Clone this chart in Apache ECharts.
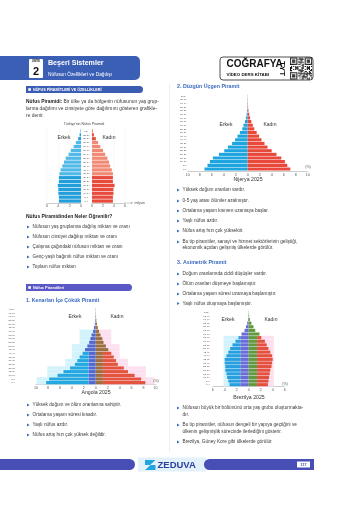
<!DOCTYPE html>
<html><head><meta charset="utf-8">
<script src="https://cdn.jsdelivr.net/npm/echarts@6/dist/echarts.min.js"></script>
<style>html,body{margin:0;padding:0;background:#fff}#c{width:343px;height:514px}</style>
</head><body><div id="c"></div><script>
const FF = "'Liberation Sans', Arial, Helvetica, sans-serif";
const FN = "'Liberation Sans Narrow', 'Liberation Sans', Arial, sans-serif";

// ---- categories ----
const ages19 = ['0-4','5-9','10-14','15-19','20-24','25-29','30-34','35-39','40-44','45-49','50-54','55-59','60-64','65-69','70-74','75-79','80-84','85-89','90+'];
const ages21 = ['0-4','5-9','10-14','15-19','20-24','25-29','30-34','35-39','40-44','45-49','50-54','55-59','60-64','65-69','70-74','75-79','80-84','85-89','90-94','95-99','100+'];

// ---- Türkiye (milyon) ----
const trMale   = [3.9,3.9,4.0,4.0,4.1,3.9,3.9,3.8,3.6,3.3,3.0,2.7,2.2,1.8,1.3,0.9,0.5,0.25,0.08];
const trFemale = [3.8,3.8,3.9,3.9,4.1,3.8,3.8,3.8,3.6,3.3,3.1,2.8,2.4,2.0,1.5,1.1,0.7,0.35,0.12];

// ---- Nijerya 2025 (%) ----
const ngMale   = [7.2,6.7,6.3,5.8,4.8,3.9,3.3,2.6,2.1,1.7,1.3,0.9,0.7,0.45,0.3,0.18,0.1,0.06,0.04,0.03,0.02];
const ngFemale = [7.1,6.6,6.2,5.6,4.8,4.0,3.3,2.8,2.3,1.9,1.5,1.1,0.85,0.6,0.4,0.25,0.12,0.07,0.04,0.03,0.02];

// ---- Angola 2025 (%) ----
const aoMale      = [8.3,7.8,6.4,5.4,4.3,3.5,3.1,2.7,2.2,1.8,1.4,1.1,0.9,0.7,0.45,0.3,0.15,0.08,0.04,0.03,0.02];
const aoFemale    = [8.3,7.6,6.5,5.4,4.7,3.7,3.4,3.0,2.6,2.1,1.7,1.3,1.1,0.8,0.55,0.35,0.2,0.1,0.05,0.03,0.02];
const aoMaleInner = [1.2,1.2,1.2,1.2,1.2,1.2,1.2,1.2,1.2,1.8,1.4,1.1,0.9,0.7,0.45,0.3,0.15,0.08,0.04,0.03,0.02];
const aoFemaleInner=[1.2,1.2,1.2,1.2,1.2,1.2,1.2,1.2,1.2,2.1,1.7,1.3,1.1,0.8,0.55,0.35,0.2,0.1,0.05,0.03,0.02];
const aoMaleBg    = [9.9,9.9,8.1,8.1,8.1,5.1,5.1,4.0,4.0,4.0,4.0,2.7,2.7,2.7,2.7,0,0,0,0,0,0];
const aoFemaleBg  = [9.8,9.8,8.4,8.4,8.4,5.4,5.4,4.0,4.0,4.0,4.0,2.6,2.6,2.6,2.6,0,0,0,0,0,0];

// ---- Brezilya 2025 (%) ----
const brMale      = [3.2,3.4,3.6,3.7,3.9,3.9,4.0,4.0,3.7,3.4,3.1,2.7,2.2,1.7,1.2,0.7,0.45,0.25,0.1,0.04,0.02];
const brFemale    = [3.2,3.3,3.4,3.5,3.6,3.8,3.9,4.0,3.9,3.6,3.3,3.0,2.7,2.1,1.8,1.1,0.8,0.45,0.2,0.08,0.03];
const brMaleInner = [1.4,1.4,1.4,1.4,1.4,1.4,1.4,1.4,1.4,1.4,1.4,1.4,1.4,1.4,1.2,0.7,0.45,0.25,0.1,0.04,0.02];
const brFemaleInner=[1.4,1.4,1.4,1.4,1.4,1.4,1.4,1.4,1.4,1.4,1.4,1.4,1.4,1.4,1.8,1.1,0.8,0.45,0.2,0.08,0.03];
const brMaleBg    = [4.2,4.2,4.2,4.2,4.2,4.2,4.2,4.2,4.2,4.2,4.2,4.2,4.2,4.2,0,0,0,0,0,0,0];
const brFemaleBg  = [4.2,4.2,4.2,4.2,4.2,4.2,4.2,4.2,4.2,4.2,4.2,4.2,4.2,4.2,0,0,0,0,0,0,0];

// ---- helpers ----
const neg = a => a.map(v => -v);
const rest = (t, inn) => t.map((v, i) => +(v - Math.min(v, inn[i])).toFixed(3));
const part = (t, inn) => t.map((v, i) => Math.min(v, inn[i]));
const box = (x1, y1, x2, y2) => ({left: x1, top: y1, width: x2 - x1, height: y2 - y1});

const tickLbl = (margin) => ({fontSize: 3.6, color: '#555', fontFamily: FF, margin: margin, formatter: v => Math.abs(v)});
const axLine = {show: true, lineStyle: {color: '#9a9a9a', width: 0.5}};
const ageLbl = (margin, align) => ({show: true, interval: 0, fontSize: 2.5, color: '#444', fontFamily: FF, margin: margin, align: align});

function valAxis(gi, min, max, margin, opts) {
  return Object.assign({type: 'value', gridIndex: gi, min: min, max: max, interval: 2,
    axisLabel: tickLbl(margin), axisLine: axLine, axisTick: {show: false},
    splitLine: {show: false}}, opts || {});
}
function catAxis(gi, data, lbl) {
  return {type: 'category', gridIndex: gi, data: data,
    axisLabel: lbl || {show: false}, axisLine: {show: false}, axisTick: {show: false}};
}
function hidVal(gi, min, max) { return {type: 'value', gridIndex: gi, min: min, max: max, show: false}; }
function hidCat(gi, data) { return {type: 'category', gridIndex: gi, data: data, show: false}; }

// ---- graphic helpers ----
const BODY = 4.7;
const G = [];
function T(text, x, y, o) {
  o = o || {};
  G.push({type: 'text', x: x, y: y, rotation: o.rot || 0, silent: true, z: 100,
    style: {text: text, fill: o.c || '#3a3a3a', fontSize: o.s || BODY, fontFamily: o.f || FF,
      fontWeight: o.w || 'normal', align: o.a || 'left', textAlign: o.a || 'left',
      verticalAlign: 'middle', textVerticalAlign: 'middle', rich: o.rich}});
}
function R(x, y, w, h, fill, o) {
  o = o || {};
  G.push({type: 'rect', silent: true, z: o.z || 90, shape: {x: x, y: y, width: w, height: h, r: o.r || 0},
    style: {fill: fill, stroke: o.stroke || null, lineWidth: o.lw || 0}});
}
function P(points, fill) { G.push({type: 'polygon', silent: true, z: 95, shape: {points: points}, style: {fill: fill}}); }
function L(x1, y1, x2, y2, c, w) { G.push({type: 'line', silent: true, z: 90, shape: {x1, y1, x2, y2}, style: {stroke: c, lineWidth: w}}); }
function bullet(x, y) { P([[x, y - 1.4], [x + 2.6, y], [x, y + 1.4]], '#3d6cc2'); }
function B(lines, x) {
  bullet(x, lines[0][1]);
  lines.forEach(l => T(l[0], x + 5.5, l[1]));
}

// header
R(0, 56, 140, 24, '#3b5fb5', {r: [0, 5, 5, 0]});
R(29, 59, 14, 19, '#ffffff', {r: 1});
T('ÜNİTE', 36, 61.3, {s: 2.6, w: 'bold', c: '#111', a: 'center'});
T('2', 36, 72, {s: 11, w: 'bold', c: '#111', a: 'center'});
T('Beşeri Sistemler', 48, 63.5, {s: 7.1, w: 'bold', c: '#fff', f: FN});
T('Nüfusun Özellikleri ve Dağılışı', 48, 75, {s: 4.8, c: '#fff'});

R(220, 57, 93, 23, '#ffffff', {r: 3, stroke: '#222', lw: 0.8});
T('COĞRAFYA', 226.5, 64.5, {s: 10, w: 'bold', c: '#111', f: FN});
T('VİDEO DERS KİTABI', 226.5, 74.5, {s: 4.4, w: 'bold', c: '#111', f: FN});
T('TYT', 282, 68.5, {s: 8, w: 'bold', c: '#111', a: 'center', rot: -Math.PI / 2, f: FN});
// QR-like decoration
(function () {
  const n = 21, s = 22 / n, ox = 290, oy = 57.5;
  const cell = (i, j) => {
    const f = (a, b) => { const d = Math.max(Math.abs(a - 3), Math.abs(b - 3)); return d === 3 || d <= 1; };
    if (i < 7 && j < 7) return f(i, j) ? 1 : 0;
    if (i < 7 && j >= n - 7) return f(i, j - (n - 7)) ? 1 : 0;
    if (i >= n - 7 && j < 7) return f(i - (n - 7), j) ? 1 : 0;
    if ((i < 8 && j < 8) || (i < 8 && j >= n - 8) || (i >= n - 8 && j < 8)) return 0;
    return ((i * i * 3 + j * 5 + i * j * 7) % 11) < 5 ? 1 : 0;
  };
  for (let i = 0; i < n; i++) for (let j = 0; j < n; j++) if (cell(i, j)) R(ox + j * s, oy + i * s, s + 0.05, s + 0.05, '#111', {z: 96});
})();

// column divider
L(169.5, 84, 169.5, 452, '#dcdcdc', 0.5);

// section bars
R(26, 86, 117, 7, '#3a5cb3', {r: [0, 3.5, 3.5, 0]});
R(28.3, 88.2, 2.6, 2.6, '#fff', {z: 97});
T('NÜFUS PİRAMİTLERİ VE ÖZELLİKLERİ', 33, 89.6, {s: 3.7, w: 'bold', c: '#fff', f: FN});

T('{b|Nüfus Piramidi:} Bir ülke ya da bölgenin nüfusunun yaş grup-', 26, 102,
  {s: 4.9, rich: {b: {fontWeight: 'bold', fontSize: 4.9, fill: '#222', color: '#222', fontFamily: FF}}});
T('larına dağılımı ve cinsiyete göre dağılımını gösteren grafikle-', 26, 108.8, {s: 4.9});
T('re denir.', 26, 115.3, {s: 4.9});

T("Türkiye'nin Nüfus Piramidi", 84, 124, {s: 3.5, a: 'center', c: '#444'});
T('Erkek', 64, 138, {s: 5, a: 'center', c: '#333'});
T('Kadın', 109, 138, {s: 5, a: 'center', c: '#333'});
L(124, 203, 131, 203, '#9a9a9a', 0.5);
P([[131, 201.9], [133, 203], [131, 204.1]], '#9a9a9a');
T('milyon', 134.5, 203, {s: 3.6, c: '#555'});

T('Nüfus Piramidinden Neler Öğrenilir?', 26, 217, {s: 5, w: 'bold', c: '#222'});
B([['Nüfusun yaş gruplarına dağılış miktarı ve oranı', 227]], 27);
B([['Nüfusun cinsiyet dağılışı miktarı ve oranı', 237]], 27);
B([['Çalışma çağındaki nüfusun miktarı ve oranı', 247]], 27);
B([['Genç-yaşlı bağımlı nüfus miktarı ve oranı', 257]], 27);
B([['Toplam nüfus miktarı', 267]], 27);

R(26, 284, 106, 7, '#5a58c6', {r: [0, 3.5, 3.5, 0]});
R(28.3, 286.2, 2.6, 2.6, '#fff', {z: 97});
T('Nüfus Piramitleri', 33, 287.6, {s: 3.9, w: 'bold', c: '#fff', f: FN});
T('1. Kenarları İçe Çökük Piramit', 26, 301, {s: 5.2, w: 'bold', c: '#3b6ac0'});
T('Erkek', 75, 317, {s: 5, a: 'center', c: '#333'});
T('Kadın', 117, 317, {s: 5, a: 'center', c: '#333'});
T('(%)', 156, 381, {s: 3.6, a: 'center', c: '#555'});
T('Angola 2025', 96, 393, {s: 5.2, a: 'center', c: '#333'});
B([['Yüksek doğum ve ölüm oranlarına sahiptir.', 405]], 27);
B([['Ortalama yaşam süresi kısadır.', 415]], 27);
B([['Yaşlı nüfus azdır.', 425]], 27);
B([['Nüfus artış hızı çok yüksek değildir.', 435]], 27);

// right column
T('2. Düzgün Üçgen Piramit', 177, 87, {s: 5.3, w: 'bold', c: '#3b6ac0'});
T('Erkek', 226, 125, {s: 5, a: 'center', c: '#333'});
T('Kadın', 270, 125, {s: 5, a: 'center', c: '#333'});
T('(%)', 308, 167, {s: 3.6, a: 'center', c: '#555'});
T('Nijerya 2025', 248, 180, {s: 5.2, a: 'center', c: '#333'});
B([['Yüksek doğum oranları vardır.', 190]], 177);
B([['0-5 yaş arası ölümler azalmıştır.', 201]], 177);
B([['Ortalama yaşam kısmen uzamaya başlar.', 211]], 177);
B([['Yaşlı nüfus azdır.', 221]], 177);
B([['Nüfus artış hızı çok yüksektir.', 231]], 177);
B([['Bu tip piramitler, sanayi ve hizmet sektörlerinin geliştiği,', 242], ['ekonomik açıdan gelişmiş ülkelerde görülür.', 247.8]], 177);
T('3. Asimetrik Piramit', 177, 263, {s: 5.3, w: 'bold', c: '#3b6ac0'});
B([['Doğum oranlarında ciddi düşüşler vardır.', 274]], 177);
B([['Ölüm oranları düşmeye başlamıştır.', 284]], 177);
B([['Ortalama yaşam süresi uzamaya başlamıştır.', 294]], 177);
B([['Yaşlı nüfus oluşmaya başlamıştır.', 303.5]], 177);
T('Erkek', 228, 320, {s: 5, a: 'center', c: '#333'});
T('Kadın', 271, 320, {s: 5, a: 'center', c: '#333'});
T('(%)', 285, 384, {s: 3.6, a: 'center', c: '#555'});
T('Brezilya 2025', 249, 398, {s: 5.2, a: 'center', c: '#333'});
B([['Nüfusun büyük bir bölümünü orta yaş grubu oluşturmakta-', 408], ['dır.', 414.8]], 177);
B([['Bu tip piramitler, nüfusun dengeli bir yapıya geçtiğini ve', 425], ['ülkenin gelişmişlik sürecinde ilerlediğini gösterir.', 431.8]], 177);
B([['Brezilya, Güney Kore gibi ülkelerde görülür.', 442]], 177);

// footer
R(138, 457.5, 68, 14, '#e3f1fb', {z: 85});
R(0, 459, 135, 11, '#474fb6', {r: [0, 5.5, 5.5, 0]});
R(204, 459, 110, 11, '#474fb6', {r: [5.5, 0, 0, 5.5]});
R(297, 461.5, 13, 6, '#ffffff', {z: 96});
T('117', 303.5, 464.6, {s: 3.6, w: 'bold', c: '#2e3f9c', a: 'center'});
P([[145, 460], [155.5, 460], [150, 465], [155.5, 465], [155.5, 470], [145, 470], [150.5, 465], [145, 465]], '#22a5df');
T('ZEDUVA', 157.5, 465.2, {s: 9.5, w: 'bold', c: '#2c3f9e', f: FN});

// ---- chart ----
const chart = echarts.init(document.getElementById('c'), null, {renderer: 'canvas'});
const barBase = {type: 'bar', silent: true, animation: false};

const option = {
  animation: false,
  backgroundColor: '#ffffff',
  grid: [
    box(47, 129, 81, 203),
    box(92, 129, 125, 203),
    box(187.7, 94.2, 307.7, 170.8),
    box(36, 307.5, 155.5, 384.5),
    box(36, 307.5, 155.5, 384.5),
    box(212.7, 310.5, 284.7, 386.5),
    box(212.7, 310.5, 284.7, 386.5)
  ],
  xAxis: [
    valAxis(0, 0, 6, 1.4, {inverse: true, splitLine: {show: true, lineStyle: {color: '#d8d8d8', width: 0.4, type: [1, 1]}}}),
    valAxis(1, 0, 6, 1.4, {splitLine: {show: true, lineStyle: {color: '#d8d8d8', width: 0.4, type: [1, 1]}}}),
    valAxis(2, -10, 10, 2.5),
    hidVal(3, -10, 10),
    valAxis(4, -10, 10, 1.7),
    hidVal(5, -6, 6),
    valAxis(6, -6, 6, 1.6)
  ],
  yAxis: [
    catAxis(0, ages19),
    catAxis(1, ages19, ageLbl(5.6, 'center')),
    catAxis(2, ages21, ageLbl(1.2, 'right')),
    hidCat(3, ages21),
    catAxis(4, ages21, ageLbl(21, 'right')),
    hidCat(5, ages21),
    catAxis(6, ages21, ageLbl(3, 'right'))
  ],
  series: [
    Object.assign({}, barBase, {name: 'Erkek', xAxisIndex: 0, yAxisIndex: 0, data: trMale, barCategoryGap: '16%',
      itemStyle: {color: p => (p.dataIndex >= 7 && p.dataIndex <= 15) ? '#4fb9e8' : '#229fda'}}),
    Object.assign({}, barBase, {name: 'Kadın', xAxisIndex: 1, yAxisIndex: 1, data: trFemale, barCategoryGap: '16%',
      itemStyle: {color: p => (p.dataIndex >= 7 && p.dataIndex <= 15) ? '#f08a76' : '#e84a3c'}}),
    Object.assign({}, barBase, {name: 'Erkek', xAxisIndex: 2, yAxisIndex: 2, stack: 'ng', data: neg(ngMale), barCategoryGap: '14%',
      itemStyle: {color: '#1ea5df'}}),
    Object.assign({}, barBase, {name: 'Kadın', xAxisIndex: 2, yAxisIndex: 2, stack: 'ng', data: ngFemale, barCategoryGap: '14%',
      itemStyle: {color: '#e8493b'}}),
    Object.assign({}, barBase, {xAxisIndex: 3, yAxisIndex: 3, stack: 'aob', data: neg(aoMaleBg), barCategoryGap: '0%', z: 1,
      itemStyle: {color: '#d2f3fb'}}),
    Object.assign({}, barBase, {xAxisIndex: 3, yAxisIndex: 3, stack: 'aob', data: aoFemaleBg, barCategoryGap: '0%', z: 1,
      itemStyle: {color: '#fde0ef'}}),
    Object.assign({}, barBase, {name: 'Erkek', xAxisIndex: 4, yAxisIndex: 4, stack: 'ao', data: neg(part(aoMale, aoMaleInner)), barCategoryGap: '14%',
      itemStyle: {color: '#5466cf'}}),
    Object.assign({}, barBase, {name: 'Erkek', xAxisIndex: 4, yAxisIndex: 4, stack: 'ao', data: neg(rest(aoMale, aoMaleInner)), barCategoryGap: '14%',
      itemStyle: {color: '#25a7e0'}}),
    Object.assign({}, barBase, {name: 'Kadın', xAxisIndex: 4, yAxisIndex: 4, stack: 'ao', data: part(aoFemale, aoFemaleInner), barCategoryGap: '14%',
      itemStyle: {color: '#9a6e3e'}}),
    Object.assign({}, barBase, {name: 'Kadın', xAxisIndex: 4, yAxisIndex: 4, stack: 'ao', data: rest(aoFemale, aoFemaleInner), barCategoryGap: '14%',
      itemStyle: {color: '#e3553f'}}),
    Object.assign({}, barBase, {xAxisIndex: 5, yAxisIndex: 5, stack: 'brb', data: neg(brMaleBg), barCategoryGap: '0%', z: 1,
      itemStyle: {color: '#d2f3fb'}}),
    Object.assign({}, barBase, {xAxisIndex: 5, yAxisIndex: 5, stack: 'brb', data: brFemaleBg, barCategoryGap: '0%', z: 1,
      itemStyle: {color: '#fde0ef'}}),
    Object.assign({}, barBase, {name: 'Erkek', xAxisIndex: 6, yAxisIndex: 6, stack: 'br', data: neg(part(brMale, brMaleInner)), barCategoryGap: '14%',
      itemStyle: {color: '#6a6cd4'}}),
    Object.assign({}, barBase, {name: 'Erkek', xAxisIndex: 6, yAxisIndex: 6, stack: 'br', data: neg(rest(brMale, brMaleInner)), barCategoryGap: '14%',
      itemStyle: {color: '#2a9fe0'}}),
    Object.assign({}, barBase, {name: 'Kadın', xAxisIndex: 6, yAxisIndex: 6, stack: 'br', data: part(brFemale, brFemaleInner), barCategoryGap: '14%',
      itemStyle: {color: '#5f9a3c'}}),
    Object.assign({}, barBase, {name: 'Kadın', xAxisIndex: 6, yAxisIndex: 6, stack: 'br', data: rest(brFemale, brFemaleInner), barCategoryGap: '14%',
      itemStyle: {color: '#e4503e'}})
  ],
  graphic: {elements: G}
};
chart.setOption(option);
</script></body></html>
